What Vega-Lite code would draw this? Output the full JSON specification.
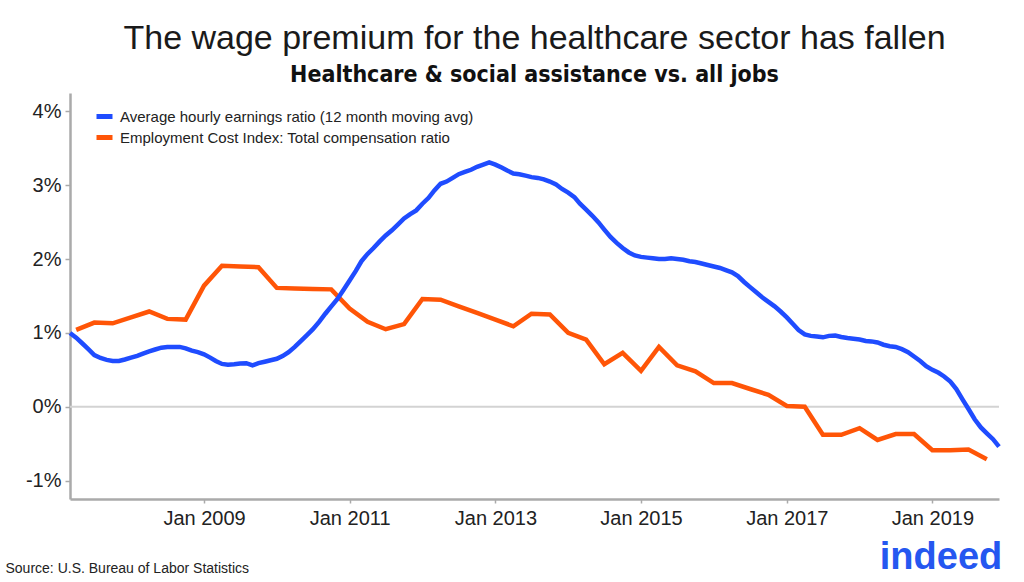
{
  "$schema": "https://vega.github.io/schema/vega-lite/v6.json",
  "width": 929,
  "height": 406,
  "autosize": {"type": "none"},
  "padding": {"left": 70, "top": 93, "right": 25, "bottom": 83},
  "background": "white",
  "title": {
    "text": "The wage premium for the healthcare sector has fallen",
    "subtitle": "Healthcare & social assistance vs. all jobs",
    "anchor": "middle",
    "font": "Liberation Sans",
    "fontSize": 34,
    "fontWeight": "normal",
    "color": "#1a1a1a",
    "subtitleFont": "Liberation Sans Narrow, DejaVu Sans Condensed, sans-serif",
    "subtitleFontSize": 23,
    "subtitleFontWeight": "bold",
    "subtitleColor": "#111",
    "subtitlePadding": 8,
    "offset": 6
  },
  "datasets": {
    "ahe": [
      {"d":"2007-03-01","v":1.00},{"d":"2007-04-01","v":0.935},{"d":"2007-05-01","v":0.86},{"d":"2007-06-01","v":0.78},
      {"d":"2007-07-01","v":0.70},{"d":"2007-08-01","v":0.66},{"d":"2007-09-01","v":0.635},{"d":"2007-10-01","v":0.62},
      {"d":"2007-11-01","v":0.62},{"d":"2007-12-01","v":0.64},{"d":"2008-01-01","v":0.665},{"d":"2008-02-01","v":0.69},
      {"d":"2008-03-01","v":0.72},{"d":"2008-04-01","v":0.75},{"d":"2008-05-01","v":0.775},{"d":"2008-06-01","v":0.80},
      {"d":"2008-07-01","v":0.81},{"d":"2008-08-01","v":0.81},{"d":"2008-09-01","v":0.81},{"d":"2008-10-01","v":0.79},
      {"d":"2008-11-01","v":0.76},{"d":"2008-12-01","v":0.74},{"d":"2009-01-01","v":0.71},{"d":"2009-02-01","v":0.665},
      {"d":"2009-03-01","v":0.62},{"d":"2009-04-01","v":0.58},{"d":"2009-05-01","v":0.57},{"d":"2009-06-01","v":0.575},
      {"d":"2009-07-01","v":0.585},{"d":"2009-08-01","v":0.59},{"d":"2009-09-01","v":0.56},{"d":"2009-10-01","v":0.59},
      {"d":"2009-11-01","v":0.61},{"d":"2009-12-01","v":0.63},{"d":"2010-01-01","v":0.65},{"d":"2010-02-01","v":0.69},
      {"d":"2010-03-01","v":0.74},{"d":"2010-04-01","v":0.81},{"d":"2010-05-01","v":0.89},{"d":"2010-06-01","v":0.97},
      {"d":"2010-07-01","v":1.05},{"d":"2010-08-01","v":1.15},{"d":"2010-09-01","v":1.26},{"d":"2010-10-01","v":1.36},
      {"d":"2010-11-01","v":1.46},{"d":"2010-12-01","v":1.58},{"d":"2011-01-01","v":1.71},{"d":"2011-02-01","v":1.84},
      {"d":"2011-03-01","v":1.97},{"d":"2011-04-01","v":2.07},{"d":"2011-05-01","v":2.15},{"d":"2011-06-01","v":2.24},
      {"d":"2011-07-01","v":2.32},{"d":"2011-08-01","v":2.39},{"d":"2011-09-01","v":2.47},{"d":"2011-10-01","v":2.55},
      {"d":"2011-11-01","v":2.61},{"d":"2011-12-01","v":2.66},{"d":"2012-01-01","v":2.75},{"d":"2012-02-01","v":2.83},
      {"d":"2012-03-01","v":2.93},{"d":"2012-04-01","v":3.02},{"d":"2012-05-01","v":3.05},{"d":"2012-06-01","v":3.10},
      {"d":"2012-07-01","v":3.15},{"d":"2012-08-01","v":3.18},{"d":"2012-09-01","v":3.21},{"d":"2012-10-01","v":3.25},
      {"d":"2012-11-01","v":3.28},{"d":"2012-12-01","v":3.31},{"d":"2013-01-01","v":3.28},{"d":"2013-02-01","v":3.24},
      {"d":"2013-03-01","v":3.20},{"d":"2013-04-01","v":3.16},{"d":"2013-05-01","v":3.15},{"d":"2013-06-01","v":3.13},
      {"d":"2013-07-01","v":3.11},{"d":"2013-08-01","v":3.10},{"d":"2013-09-01","v":3.08},{"d":"2013-10-01","v":3.05},
      {"d":"2013-11-01","v":3.01},{"d":"2013-12-01","v":2.95},{"d":"2014-01-01","v":2.90},{"d":"2014-02-01","v":2.84},
      {"d":"2014-03-01","v":2.75},{"d":"2014-04-01","v":2.67},{"d":"2014-05-01","v":2.59},{"d":"2014-06-01","v":2.50},
      {"d":"2014-07-01","v":2.40},{"d":"2014-08-01","v":2.30},{"d":"2014-09-01","v":2.22},{"d":"2014-10-01","v":2.15},
      {"d":"2014-11-01","v":2.09},{"d":"2014-12-01","v":2.05},{"d":"2015-01-01","v":2.03},{"d":"2015-02-01","v":2.02},
      {"d":"2015-03-01","v":2.01},{"d":"2015-04-01","v":2.00},{"d":"2015-05-01","v":2.00},{"d":"2015-06-01","v":2.01},
      {"d":"2015-07-01","v":2.00},{"d":"2015-08-01","v":1.99},{"d":"2015-09-01","v":1.97},{"d":"2015-10-01","v":1.96},
      {"d":"2015-11-01","v":1.94},{"d":"2015-12-01","v":1.92},{"d":"2016-01-01","v":1.90},{"d":"2016-02-01","v":1.88},
      {"d":"2016-03-01","v":1.85},{"d":"2016-04-01","v":1.82},{"d":"2016-05-01","v":1.77},{"d":"2016-06-01","v":1.69},
      {"d":"2016-07-01","v":1.62},{"d":"2016-08-01","v":1.55},{"d":"2016-09-01","v":1.48},{"d":"2016-10-01","v":1.42},
      {"d":"2016-11-01","v":1.36},{"d":"2016-12-01","v":1.29},{"d":"2017-01-01","v":1.21},{"d":"2017-02-01","v":1.12},
      {"d":"2017-03-01","v":1.04},{"d":"2017-04-01","v":0.98},{"d":"2017-05-01","v":0.96},{"d":"2017-06-01","v":0.95},
      {"d":"2017-07-01","v":0.94},{"d":"2017-08-01","v":0.96},{"d":"2017-09-01","v":0.965},{"d":"2017-10-01","v":0.945},
      {"d":"2017-11-01","v":0.93},{"d":"2017-12-01","v":0.92},{"d":"2018-01-01","v":0.91},{"d":"2018-02-01","v":0.89},
      {"d":"2018-03-01","v":0.885},{"d":"2018-04-01","v":0.87},{"d":"2018-05-01","v":0.84},{"d":"2018-06-01","v":0.82},
      {"d":"2018-07-01","v":0.81},{"d":"2018-08-01","v":0.78},{"d":"2018-09-01","v":0.74},{"d":"2018-10-01","v":0.68},
      {"d":"2018-11-01","v":0.62},{"d":"2018-12-01","v":0.55},{"d":"2019-01-01","v":0.50},{"d":"2019-02-01","v":0.46},
      {"d":"2019-03-01","v":0.41},{"d":"2019-04-01","v":0.34},{"d":"2019-05-01","v":0.24},{"d":"2019-06-01","v":0.10},
      {"d":"2019-07-01","v":-0.03},{"d":"2019-08-01","v":-0.17},{"d":"2019-09-01","v":-0.28},{"d":"2019-10-01","v":-0.36},
      {"d":"2019-11-01","v":-0.44},{"d":"2019-12-01","v":-0.54}
    ],
    "eci": [
      {"d":"2007-04-01","v":1.04},{"d":"2007-07-01","v":1.14},{"d":"2007-10-01","v":1.13},{"d":"2008-01-01","v":1.21},
      {"d":"2008-04-01","v":1.29},{"d":"2008-07-01","v":1.19},{"d":"2008-10-01","v":1.18},{"d":"2009-01-01","v":1.64},
      {"d":"2009-04-01","v":1.91},{"d":"2009-07-01","v":1.90},{"d":"2009-10-01","v":1.89},{"d":"2010-01-01","v":1.61},
      {"d":"2010-04-01","v":1.60},{"d":"2010-07-01","v":1.595},{"d":"2010-10-01","v":1.59},{"d":"2011-01-01","v":1.33},
      {"d":"2011-04-01","v":1.15},{"d":"2011-07-01","v":1.05},{"d":"2011-10-01","v":1.12},{"d":"2012-01-01","v":1.46},
      {"d":"2012-04-01","v":1.45},{"d":"2012-07-01","v":1.36},{"d":"2012-10-01","v":1.27},{"d":"2013-01-01","v":1.18},
      {"d":"2013-04-01","v":1.09},{"d":"2013-07-01","v":1.26},{"d":"2013-10-01","v":1.25},{"d":"2014-01-01","v":1.00},
      {"d":"2014-04-01","v":0.91},{"d":"2014-07-01","v":0.575},{"d":"2014-10-01","v":0.73},{"d":"2015-01-01","v":0.485},
      {"d":"2015-04-01","v":0.81},{"d":"2015-07-01","v":0.56},{"d":"2015-10-01","v":0.48},{"d":"2016-01-01","v":0.32},
      {"d":"2016-04-01","v":0.32},{"d":"2016-07-01","v":0.24},{"d":"2016-10-01","v":0.16},{"d":"2017-01-01","v":0.01},
      {"d":"2017-04-01","v":0.0},{"d":"2017-07-01","v":-0.38},{"d":"2017-10-01","v":-0.38},{"d":"2018-01-01","v":-0.29},
      {"d":"2018-04-01","v":-0.45},{"d":"2018-07-01","v":-0.37},{"d":"2018-10-01","v":-0.37},{"d":"2019-01-01","v":-0.59},
      {"d":"2019-04-01","v":-0.59},{"d":"2019-07-01","v":-0.58},{"d":"2019-10-01","v":-0.71}
    ],
    "logo": [{"t":"indeed"}]
  },
  "layer": [
    {
      "data": {"values": [{"z": 0}]},
      "mark": {"type": "rule", "color": "#d3d3d3", "strokeWidth": 2},
      "encoding": {"y": {"field": "z", "type": "quantitative"}}
    },
    {
      "data": {"name": "eci"},
      "mark": {"type": "line", "strokeWidth": 4.5, "strokeJoin": "miter", "strokeCap": "butt"},
      "encoding": {
        "x": {"field": "d", "type": "temporal"},
        "y": {"field": "v", "type": "quantitative"},
        "color": {"datum": "Employment Cost Index: Total compensation ratio"}
      }
    },
    {
      "data": {"name": "ahe"},
      "mark": {"type": "line", "strokeWidth": 4.5, "strokeCap": "butt"},
      "encoding": {
        "x": {
          "field": "d", "type": "temporal",
          "scale": {"type": "utc", "domain": [{"year": 2007, "month": 3, "date": 1, "utc": true}, {"year": 2019, "month": 12, "date": 1, "utc": true}]},
          "axis": {
            "title": "Source: U.S. Bureau of Labor Statistics",
            "titleFont": "Liberation Sans", "titleFontSize": 14, "titleFontWeight": "normal", "titleColor": "#222",
            "titleAnchor": "start", "titleAlign": "left", "titleBaseline": "alphabetic",
            "titleX": -65, "titleY": 73,
            "values": [
              {"year": 2009, "month": 1, "date": 1, "utc": true},
              {"year": 2011, "month": 1, "date": 1, "utc": true},
              {"year": 2013, "month": 1, "date": 1, "utc": true},
              {"year": 2015, "month": 1, "date": 1, "utc": true},
              {"year": 2017, "month": 1, "date": 1, "utc": true},
              {"year": 2019, "month": 1, "date": 1, "utc": true}
            ],
            "format": "%b %Y",
            "grid": false,
            "domainColor": "#aaaaaa", "domainWidth": 2.5,
            "tickColor": "#aaaaaa", "tickSize": 4, "tickWidth": 1.5,
            "labelFont": "Liberation Sans", "labelFontSize": 20, "labelColor": "#222", "labelPadding": 5
          }
        },
        "y": {
          "field": "v", "type": "quantitative",
          "scale": {"domain": [-1.25, 4.25], "nice": false, "zero": false},
          "axis": {
            "title": null,
            "values": [-1, 0, 1, 2, 3, 4],
            "labelExpr": "datum.value + '%'",
            "grid": false,
            "domainColor": "#aaaaaa", "domainWidth": 2.5,
            "tickColor": "#aaaaaa", "tickSize": 5, "tickWidth": 1.5,
            "labelFont": "Liberation Sans", "labelFontSize": 20, "labelColor": "#222", "labelPadding": 4
          }
        },
        "color": {
          "datum": "Average hourly earnings ratio (12 month moving avg)",
          "scale": {
            "domain": ["Average hourly earnings ratio (12 month moving avg)", "Employment Cost Index: Total compensation ratio"],
            "range": ["#1f4cff", "#ff5507"]
          },
          "legend": {
            "title": null,
            "orient": "none",
            "legendX": 24,
            "legendY": 13,
            "padding": 0,
            "symbolType": "stroke",
            "symbolStrokeWidth": 5,
            "symbolSize": 256,
            "labelFont": "Liberation Sans",
            "labelFontSize": 15,
            "labelColor": "#222",
            "labelOffset": 5,
            "labelLimit": 0,
            "rowPadding": -2
          }
        }
      }
    },
    {
      "data": {"name": "logo"},
      "mark": {"type": "text", "font": "Liberation Sans", "fontSize": 38, "fontWeight": "bold", "color": "#2557f0", "align": "center", "baseline": "alphabetic", "letterSpacing": -1},
      "encoding": {
        "text": {"field": "t"},
        "x": {"value": 871},
        "y": {"value": 476}
      }
    }
  ],
  "config": {"view": {"stroke": null}}
}
